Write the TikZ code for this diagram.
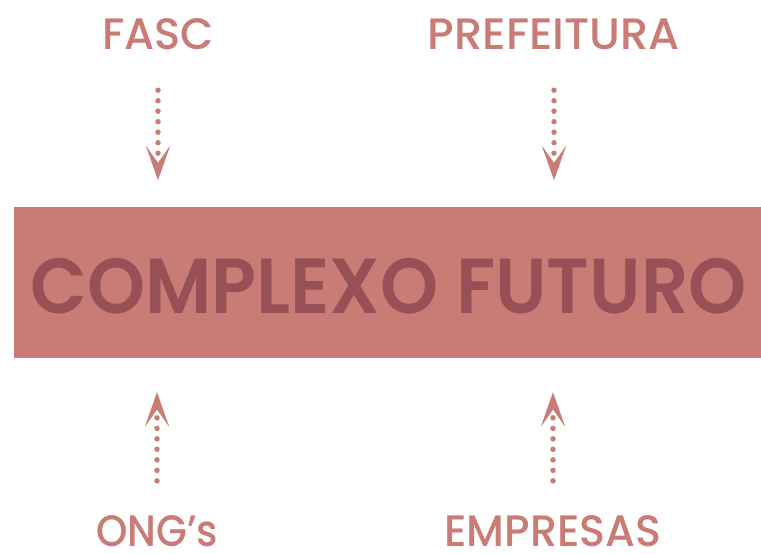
\documentclass[tikz,border=0pt]{standalone}
\usepackage{fontspec}
\setmainfont{Poppins}
\newfontfamily\popmed{Poppins Medium}
\newfontfamily\popsemi{Poppins SemiBold}
\usetikzlibrary{arrows.meta}
\definecolor{boxfill}{HTML}{C97B76}
\definecolor{boxtext}{HTML}{975055}
\definecolor{lbl}{HTML}{C97B76}
\tikzset{
  lab/.style={anchor=base, inner sep=0pt, text depth=0pt, text=lbl, font=\popmed\fontsize{44}{44}\selectfont},
  flow/.style={draw=lbl, line width=5.5pt, line cap=round, dash pattern=on 0pt off 10.5pt,
    -{Stealth[length=34pt,width=24pt,inset=17pt,line width=0.01pt]}},
}
\begin{document}
\begin{tikzpicture}[x=1pt,y=-1pt]
\useasboundingbox (0,0) rectangle (761,554);
\fill[boxfill] (14,207) rectangle (761,358);
\node[inner sep=0pt, minimum width=747pt, minimum height=151pt, anchor=north west] (box) at (14,207) {};
\node[anchor=base, inner sep=0pt, text=boxtext, font=\popsemi\fontsize{78}{78}\selectfont] (title) at (388.5,313) {\resizebox{716pt}{\height}{COMPLEXO FUTURO}};
\node[lab] (fasc) at (158,49) {\resizebox{112pt}{\height}{FASC}};
\node[lab] (pref) at (554,49) {\resizebox{252pt}{\height}{PREFEITURA}};
\node[lab] (ongs) at (157,546) {\resizebox{122pt}{\height}{ONG’s}};
\node[lab] (emp) at (553,546) {\resizebox{217pt}{\height}{EMPRESAS}};
\draw[flow, shorten <=41pt, shorten >=27pt] (fasc.south) -- (fasc.south |- box.north);
\draw[flow, shorten <=41pt, shorten >=27pt] (pref.south) -- (pref.south |- box.north);
\draw[flow, shorten <=34pt, shorten >=34pt] (ongs.north) -- (ongs.north |- box.south);
\draw[flow, shorten <=34pt, shorten >=34pt] (emp.north) -- (emp.north |- box.south);
\end{tikzpicture}
\end{document}
